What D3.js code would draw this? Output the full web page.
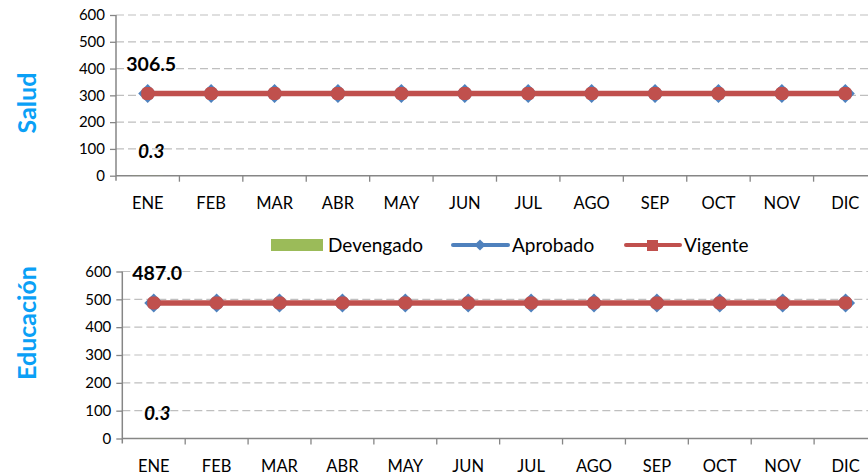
<!DOCTYPE html>
<html>
<head>
<meta charset="utf-8">
<script src="https://cdn.jsdelivr.net/npm/d3@7"></script>
<style>
  body { margin: 0; background: #fff; }
  svg { display: block; font-family: Lato, "Open Sans", sans-serif; }
  .tick text { fill: #000; font-family: Lato, "Open Sans", sans-serif; }
</style>
</head>
<body>
<div id="chart"></div>
<script>
// Data
var months = ["ENE", "FEB", "MAR", "ABR", "MAY", "JUN", "JUL", "AGO", "SEP", "OCT", "NOV", "DIC"];
var yTicks = [0, 100, 200, 300, 400, 500, 600];

var saludDevengado = [0.3, 0, 0, 0, 0, 0, 0, 0, 0, 0, 0, 0];
var saludAprobado = [306.5, 306.5, 306.5, 306.5, 306.5, 306.5, 306.5, 306.5, 306.5, 306.5, 306.5, 306.5];
var saludVigente = [306.5, 306.5, 306.5, 306.5, 306.5, 306.5, 306.5, 306.5, 306.5, 306.5, 306.5, 306.5];

var eduDevengado = [0.3, 0, 0, 0, 0, 0, 0, 0, 0, 0, 0, 0];
var eduAprobado = [487.0, 487.0, 487.0, 487.0, 487.0, 487.0, 487.0, 487.0, 487.0, 487.0, 487.0, 487.0];
var eduVigente = [487.0, 487.0, 487.0, 487.0, 487.0, 487.0, 487.0, 487.0, 487.0, 487.0, 487.0, 487.0];

var legendNames = ["Devengado", "Aprobado", "Vigente"];

var green = "#9bbb59", blue = "#4f81bd", red = "#c0504d";
var gridColor = "#bfbfbf", axisColor = "#868686", titleColor = "#0aa0f6";

var svgWidth = 868, svgHeight = 475;

var svg = d3.select("#chart")
  .append("svg")
  .attr("width", svgWidth)
  .attr("height", svgHeight);

var diamond = d3.symbol().type(d3.symbolDiamond2).size(230);

function drawPanel(cfg) {
  var g = svg.append("g");

  var x = d3.scaleBand()
    .domain(months)
    .range([cfg.left, cfg.right]);

  var y = d3.scaleLinear()
    .domain([0, 600])
    .range([cfg.bottom, cfg.top]);

  var cx = m => x(m) + x.bandwidth() / 2;

  // gridlines
  g.selectAll(".grid")
    .data(yTicks.filter(t => t > 0))
    .enter()
    .append("line")
    .attr("x1", cfg.left)
    .attr("x2", svgWidth)
    .attr("y1", d => y(d))
    .attr("y2", d => y(d))
    .attr("stroke", gridColor)
    .attr("stroke-width", 1.2)
    .attr("stroke-dasharray", "8,4");

  // y axis
  var leftAxis = d3.axisLeft(y).tickValues(yTicks).tickSize(6).tickPadding(5);
  var ya = g.append("g")
    .attr("transform", `translate(${cfg.left},0)`)
    .call(leftAxis);
  ya.select(".domain").remove();
  ya.selectAll(".tick line").attr("stroke", axisColor).attr("stroke-width", 1.3);
  ya.selectAll("text").style("font-size", "15px");
  ya.append("line")
    .attr("y1", cfg.top).attr("y2", cfg.bottom + 5)
    .attr("stroke", axisColor).attr("stroke-width", 1.5);

  // x axis
  var bottomAxis = d3.axisBottom(x).tickSize(0).tickPadding(22);
  var xa = g.append("g")
    .attr("transform", `translate(0,${cfg.bottom})`)
    .call(bottomAxis);
  xa.select(".domain").remove();
  xa.selectAll("text").style("font-size", "16.5px");
  xa.append("line")
    .attr("x1", cfg.left).attr("x2", svgWidth)
    .attr("stroke", axisColor).attr("stroke-width", 1.5);
  xa.selectAll(".btick")
    .data(months.slice(1))
    .enter()
    .append("line")
    .attr("x1", d => x(d)).attr("x2", d => x(d))
    .attr("y1", 0).attr("y2", 6)
    .attr("stroke", axisColor).attr("stroke-width", 1.3);

  // Devengado bars
  g.selectAll(".bar")
    .data(cfg.devengado)
    .enter()
    .append("rect")
    .attr("x", (d, i) => x(months[i]) + x.bandwidth() * 0.25)
    .attr("width", x.bandwidth() * 0.5)
    .attr("y", d => y(d))
    .attr("height", d => y(0) - y(d))
    .attr("fill", green);

  var line = d3.line().x((d, i) => cx(months[i])).y(d => y(d));

  // Aprobado
  g.append("path")
    .attr("d", line(cfg.aprobado))
    .attr("fill", "none")
    .attr("stroke", blue)
    .attr("stroke-width", 3);
  g.selectAll(".dia")
    .data(cfg.aprobado)
    .enter()
    .append("path")
    .attr("d", diamond)
    .attr("transform", (d, i) => `translate(${cx(months[i])},${y(d)})`)
    .attr("fill", blue);

  // Vigente
  g.append("path")
    .attr("d", line(cfg.vigente))
    .attr("fill", "none")
    .attr("stroke", red)
    .attr("stroke-width", 5.5);
  g.selectAll(".sq")
    .data(cfg.vigente)
    .enter()
    .append("rect")
    .attr("x", (d, i) => cx(months[i]) - 6.5)
    .attr("y", d => y(d) - 6.5)
    .attr("width", 13)
    .attr("height", 13)
    .attr("rx", 5)
    .attr("fill", red);

  // data labels (first month)
  g.append("text")
    .attr("x", cx(months[0]) + 3.5)
    .attr("y", y(cfg.vigente[0]) - 23)
    .attr("text-anchor", "middle")
    .style("font-size", "19.5px")
    .style("font-weight", "bold")
    .text(d3.format(".1f")(cfg.vigente[0]));

  g.append("text")
    .attr("x", cx(months[0]) + 3.5)
    .attr("y", y(cfg.devengado[0]) - 18)
    .attr("text-anchor", "middle")
    .style("font-size", "19px")
    .style("font-weight", "bold")
    .style("font-style", "italic")
    .text(d3.format(".1f")(cfg.devengado[0]));

  // panel title
  g.append("text")
    .attr("transform", `translate(36,${cfg.titleY}) rotate(-90)`)
    .attr("text-anchor", "middle")
    .style("font-size", "25px")
    .style("font-weight", "bold")
    .attr("fill", titleColor)
    .text(cfg.title);
}

drawPanel({
  title: "Salud", titleY: 103,
  left: 116, right: 877, top: 15, bottom: 175.7,
  devengado: saludDevengado, aprobado: saludAprobado, vigente: saludVigente
});

drawPanel({
  title: "Educación", titleY: 323,
  left: 122.3, right: 877, top: 271.5, bottom: 438.5,
  devengado: eduDevengado, aprobado: eduAprobado, vigente: eduVigente
});

// Legend
var legend = svg.append("g").style("font-size", "19px");
legend.append("rect")
  .attr("x", 271).attr("y", 239).attr("width", 52).attr("height", 12)
  .attr("fill", green);
legend.append("text").attr("x", 328).attr("y", 251.5).text(legendNames[0]);

legend.append("line")
  .attr("x1", 453).attr("x2", 508).attr("y1", 245).attr("y2", 245)
  .attr("stroke", blue).attr("stroke-width", 4).attr("stroke-linecap", "round");
legend.append("path")
  .attr("d", d3.symbol().type(d3.symbolDiamond2).size(80))
  .attr("transform", "translate(480,245)")
  .attr("fill", blue);
legend.append("text").attr("x", 512).attr("y", 251.5).text(legendNames[1]);

legend.append("line")
  .attr("x1", 626).attr("x2", 680).attr("y1", 245).attr("y2", 245)
  .attr("stroke", red).attr("stroke-width", 4).attr("stroke-linecap", "round");
legend.append("rect")
  .attr("x", 647).attr("y", 240).attr("width", 11).attr("height", 11)
  .attr("fill", red);
legend.append("text").attr("x", 684).attr("y", 251.5).text(legendNames[2]);
</script>
</body>
</html>
